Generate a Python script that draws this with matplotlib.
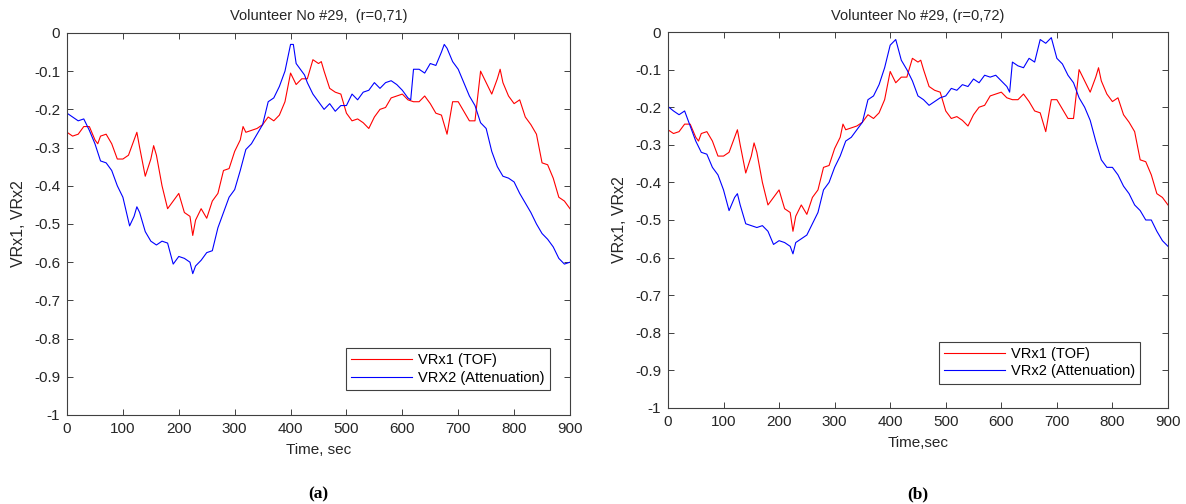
import numpy as np
import matplotlib
matplotlib.use("Agg")
import matplotlib.pyplot as plt

plt.rcParams['font.family'] = ['Liberation Sans', 'DejaVu Sans']

# VRx1 (TOF) - same in both panels
t_red = [0, 10, 20, 30, 40, 50, 55, 60, 70, 80, 90, 100, 110, 125, 130, 140, 150, 155, 160, 170,
         180, 190, 200, 210, 220, 225, 230, 240, 250, 260, 270, 280, 290, 300, 310, 315, 320, 330,
         340, 350, 360, 370, 380, 390, 400, 410, 420, 430, 440, 450, 455, 460, 470, 480, 490, 500,
         510, 520, 530, 540, 550, 560, 570, 580, 590, 600, 610, 620, 630, 640, 650, 660, 670, 680,
         690, 700, 710, 720, 730, 740, 750, 760, 770, 775, 780, 790, 800, 810, 820, 830, 840, 850,
         860, 870, 880, 890, 900]
v_red = [-0.26, -0.27, -0.265, -0.245, -0.245, -0.28, -0.29, -0.27, -0.265, -0.29, -0.33, -0.33,
         -0.32, -0.26, -0.30, -0.375, -0.33, -0.295, -0.32, -0.40, -0.46, -0.44, -0.42, -0.47, -0.48,
         -0.53, -0.49, -0.46, -0.485, -0.44, -0.42, -0.36, -0.355, -0.31, -0.28, -0.245, -0.26,
         -0.255, -0.25, -0.24, -0.22, -0.23, -0.215, -0.18, -0.105, -0.135, -0.12, -0.12, -0.07,
         -0.08, -0.075, -0.10, -0.145, -0.155, -0.16, -0.21, -0.23, -0.225, -0.235, -0.25, -0.22,
         -0.20, -0.195, -0.17, -0.165, -0.16, -0.175, -0.18, -0.18, -0.165, -0.185, -0.21, -0.215,
         -0.265, -0.18, -0.18, -0.205, -0.23, -0.23, -0.10, -0.13, -0.16, -0.12, -0.095, -0.13,
         -0.165, -0.185, -0.175, -0.22, -0.24, -0.265, -0.34, -0.345, -0.38, -0.43, -0.44, -0.46]

# VRX2 (Attenuation), panel (a)
t_blue_a = [0, 10, 20, 30, 40, 50, 60, 70, 80, 90, 100, 112, 120, 125, 130, 140, 150, 160, 170, 180,
            190, 200, 210, 220, 225, 230, 240, 250, 260, 270, 280, 290, 300, 310, 320, 330, 340, 350,
            360, 370, 380, 390, 400, 405, 410, 420, 425, 430, 440, 450, 460, 470, 480, 490, 500, 510,
            520, 530, 540, 550, 560, 570, 580, 590, 600, 610, 615, 620, 630, 640, 650, 660, 670, 675,
            680, 690, 700, 710, 720, 730, 740, 750, 760, 770, 780, 790, 800, 810, 820, 830, 840, 850,
            860, 870, 880, 890, 900]
v_blue_a = [-0.21, -0.22, -0.23, -0.225, -0.255, -0.29, -0.335, -0.34, -0.36, -0.40, -0.43, -0.505,
            -0.48, -0.455, -0.47, -0.52, -0.545, -0.555, -0.545, -0.55, -0.605, -0.585, -0.59, -0.60,
            -0.63, -0.61, -0.595, -0.575, -0.57, -0.51, -0.47, -0.43, -0.41, -0.36, -0.305, -0.29,
            -0.265, -0.24, -0.18, -0.17, -0.14, -0.10, -0.03, -0.03, -0.08, -0.10, -0.11, -0.13,
            -0.16, -0.18, -0.20, -0.185, -0.205, -0.19, -0.19, -0.16, -0.175, -0.155, -0.15, -0.13,
            -0.145, -0.13, -0.125, -0.135, -0.15, -0.17, -0.175, -0.095, -0.095, -0.105, -0.08,
            -0.085, -0.05, -0.03, -0.04, -0.075, -0.095, -0.13, -0.165, -0.19, -0.235, -0.25, -0.31,
            -0.35, -0.375, -0.38, -0.39, -0.42, -0.445, -0.47, -0.50, -0.525, -0.54, -0.56, -0.59,
            -0.605, -0.60]

# VRx2 (Attenuation), panel (b)
t_blue_b = [0, 10, 20, 30, 40, 50, 60, 70, 80, 90, 100, 110, 120, 125, 130, 140, 150, 160, 170, 180,
            190, 200, 210, 220, 225, 230, 240, 250, 260, 270, 280, 290, 300, 310, 320, 330, 340, 350,
            360, 370, 380, 390, 400, 410, 420, 430, 440, 450, 460, 470, 480, 490, 500, 510, 520, 530,
            540, 550, 560, 570, 580, 590, 600, 610, 615, 620, 630, 640, 650, 660, 670, 680, 690, 700,
            710, 720, 730, 740, 750, 760, 770, 780, 790, 800, 810, 820, 830, 840, 850, 860, 870, 880,
            890, 900]
v_blue_b = [-0.198, -0.21, -0.22, -0.21, -0.25, -0.29, -0.32, -0.325, -0.36, -0.38, -0.42, -0.475,
            -0.44, -0.43, -0.46, -0.51, -0.515, -0.52, -0.515, -0.53, -0.565, -0.555, -0.56, -0.57,
            -0.59, -0.56, -0.55, -0.54, -0.51, -0.48, -0.42, -0.40, -0.36, -0.33, -0.29, -0.28,
            -0.26, -0.24, -0.18, -0.17, -0.14, -0.095, -0.035, -0.02, -0.075, -0.10, -0.13, -0.17,
            -0.18, -0.195, -0.185, -0.175, -0.17, -0.15, -0.155, -0.14, -0.145, -0.125, -0.135,
            -0.115, -0.12, -0.115, -0.13, -0.145, -0.16, -0.08, -0.09, -0.095, -0.07, -0.08, -0.02,
            -0.03, -0.015, -0.07, -0.085, -0.115, -0.135, -0.175, -0.20, -0.235, -0.29, -0.34, -0.36,
            -0.36, -0.38, -0.41, -0.43, -0.46, -0.475, -0.50, -0.50, -0.53, -0.555, -0.57]

x_ticks = [0, 100, 200, 300, 400, 500, 600, 700, 800, 900]
y_ticks = [0, -0.1, -0.2, -0.3, -0.4, -0.5, -0.6, -0.7, -0.8, -0.9, -1]
y_labels = ['0', '-0.1', '-0.2', '-0.3', '-0.4', '-0.5', '-0.6', '-0.7', '-0.8', '-0.9', '-1']

axc = '#404040'

fig = plt.figure(figsize=(11.86, 5.04), dpi=100)


def panel(pos, tb, vb, title, xlab, ylab, leg2, cap, capx, legbox):
    ax = fig.add_axes(pos)
    ax.plot(t_red, v_red, color='#ff0000', lw=0.8, label='VRx1 (TOF)')
    ax.plot(tb, vb, color='#0000ff', lw=0.8, label=leg2)
    ax.set_xlim(0, 900)
    ax.set_ylim(-1, 0)
    ax.set_xticks(x_ticks)
    ax.set_yticks(y_ticks)
    ax.set_yticklabels(y_labels)
    ax.tick_params(direction='in', top=True, right=True, length=4, width=0.7,
                   labelsize=11, colors=axc, labelcolor='#262626', pad=5)
    for s in ax.spines.values():
        s.set_color(axc)
        s.set_linewidth(0.8)
    ax.set_title(title, fontsize=10.5, color='#262626', pad=9)
    ax.set_xlabel(xlab, fontsize=11, color='#262626', labelpad=5)
    ax.set_ylabel(ylab, fontsize=11.5, color='#262626', labelpad=6)
    leg = ax.legend(loc='lower right', bbox_to_anchor=legbox, fontsize=10.5,
                    fancybox=False, framealpha=1, edgecolor=axc, handlelength=4.2,
                    borderpad=0.35, labelspacing=0.25, handletextpad=0.4, borderaxespad=0)
    leg.get_frame().set_linewidth(0.8)
    fig.text(capx, 0.012, cap, fontsize=12.5, fontweight='bold',
             family=['Liberation Serif', 'DejaVu Serif'], ha='center')
    return ax


panel([0.0565, 0.1766, 0.4241, 0.758], t_blue_a, v_blue_a, 'Volunteer No #29,  (r=0,71)',
      'Time, sec', 'VRx1, VRx2', 'VRX2 (Attenuation)', '(a)', 0.268, (0.96, 0.065))
panel([0.5632, 0.1905, 0.4216, 0.746], t_blue_b, v_blue_b, 'Volunteer No #29, (r=0,72)',
      'Time,sec', 'VRx1, VRx2', 'VRx2 (Attenuation)', '(b)', 0.774, (0.945, 0.065))

plt.savefig('out.png', dpi=100)
